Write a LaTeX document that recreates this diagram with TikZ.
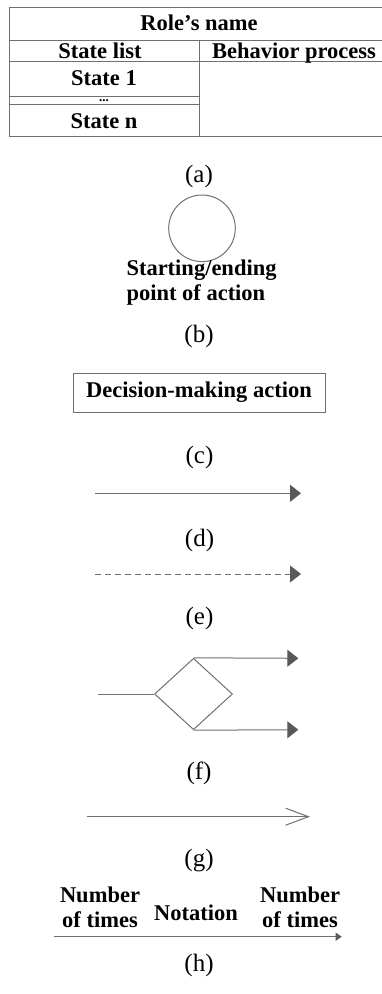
\documentclass[tikz,border=0pt]{standalone}
\usepackage{fontspec}
\setmainfont{Liberation Serif}
\usetikzlibrary{arrows.meta,shapes.geometric}
\definecolor{linegray}{HTML}{707070}
\definecolor{tipgray}{HTML}{595959}

\begin{document}
\begin{tikzpicture}[x=1pt, y=-1pt, line width=1pt,
  ln/.style={draw=linegray},
  bt/.style={font=\bfseries\fontsize{22.5}{25}\selectfont, inner sep=0pt},
  sublbl/.style={font=\fontsize{25}{28}\selectfont, inner sep=0pt},
  headtip/.style={-{Triangle[length=11pt, width=17pt, fill=tipgray, color=tipgray]}}]
  \useasboundingbox (0,0) rectangle (382,994);
  % (a)
  \draw[ln] (9,7.3) -- (382,7.3) (9,40.7) -- (382,40.7) (9,61.7) -- (382,61.7)
    (9,96.7) -- (199,96.7) (9,104.3) -- (199,104.3) (9,136) -- (382,136)
    (9,7.3) -- (9,136) (199,40.7) -- (199,136);
  \node[bt, anchor=base] (role) at (199,30.7) {Role’s name};
  \node[bt, anchor=base] (slist) at (100,58.3) {State list};
  \node[bt, anchor=base] (behav) at (294,58.3) {Behavior process};
  \node[bt, anchor=base] (s1) at (104,85) {State 1};
  \node[bt, anchor=base, font=\bfseries\fontsize{13}{13}\selectfont] (sdots) at (104,101.5) {...};
  \node[bt, anchor=base] (sn) at (104,128.3) {State n};
  \node[sublbl] (suba) at (199,176) {(a)};
  % (b)
  \node[ln, circle, draw, minimum size=66.6pt, inner sep=0pt] (start) at (202,228.3) {};
  \node[bt, align=left, anchor=south west] (startlbl) at (126,306.2) {Starting/ending\\point of action};
  \node[sublbl] (subb) at (199,336) {(b)};
  % (c)
  \node[ln, draw, bt, minimum width=252pt, minimum height=39pt] (decide) at (199,392.5) {Decision-making action};
  \node[sublbl] (subc) at (199.5,457.5) {(c)};
  % (d)
  \coordinate (d0) at (95,493.3);
  \coordinate (d1) at (301,493.3);
  \draw[ln, headtip] (d0) -- (d1);
  \node[sublbl] (subd) at (199.5,540) {(d)};
  % (e)
  \coordinate (e0) at (95,574);
  \coordinate (e1) at (301,574);
  \draw[ln, headtip, dash pattern=on 6pt off 4pt] (e0) -- (e1);
  \node[sublbl] (sube) at (199.5,618) {(e)};
  % (f)
  \node[ln, diamond, draw, minimum width=78pt, minimum height=71.4pt, inner sep=0pt] (branch) at (193.5,694) {};
  \coordinate (f0) at (98.3,694);
  \coordinate (f1) at (298.3,658.3);
  \coordinate (f2) at (298.3,729.7);
  \draw[ln] (f0) -- (branch.west);
  \draw[ln, headtip] (branch.north) -- (f1);
  \draw[ln, headtip] (branch.south) -- (f2);
  \node[sublbl] (subf) at (199,773) {(f)};
  % (g)
  \coordinate (g0) at (86.7,816.7);
  \coordinate (g1) at (310,816.7);
  \draw[ln, -{Straight Barb[length=23pt, width=17pt]}] (g0) -- (g1);
  \node[sublbl] (subg) at (199,861) {(g)};
  % (h)
  \coordinate (h0) at (54,936.7);
  \coordinate (h1) at (341.7,936.7);
  \draw[ln, -{Triangle[length=6pt, width=8pt, fill=tipgray, color=tipgray]}] (h0) -- (h1);
  \node[bt, align=center, anchor=south] (cntl) at (100,928.7) {Number\\of times};
  \node[bt, anchor=base] (notation) at (196,920) {Notation};
  \node[bt, align=center, anchor=south] (cntr) at (300,928.7) {Number\\of times};
  \node[sublbl] (subh) at (199,965) {(h)};
\end{tikzpicture}
\end{document}
